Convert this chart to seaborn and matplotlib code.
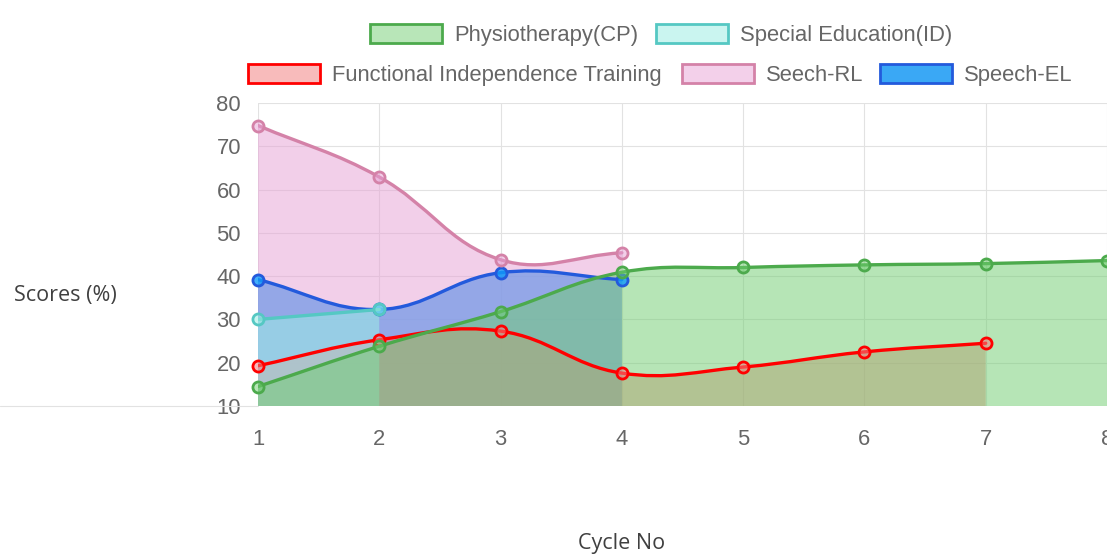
import numpy as np
import matplotlib
matplotlib.use("Agg")
import matplotlib.pyplot as plt
import seaborn as sns
from matplotlib.path import Path
from matplotlib.patches import PathPatch, Patch
from matplotlib.lines import Line2D

# ---------------- data ----------------
cycles = [1, 2, 3, 4, 5, 6, 7, 8]
physio = [14.5, 23.8, 31.8, 40.9, 42.0, 42.6, 42.9, 43.6]
special_ed = [30.0, 32.3]
fit = [19.3, 25.3, 27.3, 17.6, 19.0, 22.5, 24.5]
seech_rl = [74.8, 62.9, 43.8, 45.4]
speech_el = [39.2, 32.3, 40.8, 39.2]

labels = ["Physiotherapy(CP)", "Special Education(ID)",
          "Functional Independence Training", "Seech-RL", "Speech-EL"]
y_ticks = [10, 20, 30, 40, 50, 60, 70, 80]

# ---------------- styles ----------------
def rgb(r, g, b, a=1.0):
    return (r / 255, g / 255, b / 255, a)

series = [
    # label, values, fill rgba, line colour, legend face
    (labels[0], physio, rgb(111, 205, 111, 0.5), rgb(76, 170, 76), rgb(184, 230, 184)),
    (labels[1], special_ed, rgb(155, 237, 228, 0.55), rgb(85, 200, 195), rgb(202, 245, 240)),
    (labels[2], fit, rgb(242, 128, 128, 0.55), rgb(255, 0, 0), rgb(248, 187, 187)),
    (labels[3], seech_rl, rgb(231, 161, 213, 0.5), rgb(212, 130, 168), rgb(243, 208, 234)),
    (labels[4], speech_el, rgb(17, 155, 250, 0.8), rgb(35, 90, 220), rgb(58, 168, 245)),
]

W, H = 1107, 555
sns.set_theme(style="white")
plt.rcParams["font.family"] = ["Liberation Sans", "DejaVu Sans"]

fig = plt.figure(figsize=(W / 100, H / 100), dpi=100)
ax = fig.add_axes([258 / W, (H - 406) / H, 849 / W, 303 / H])
ax.set_xlim(1, 8)
ax.set_ylim(10, 80)

SX, SY = 849 / 7, 303 / 70  # px per unit


def bezier_path(xs, ys, t=0.4, closed_to=None):
    xs = np.asarray(xs, float)
    ys = np.asarray(ys, float)
    px, py = xs * SX, ys * SY
    n = len(xs)
    pcp, ncp = [], []
    for i in range(n):
        a = i - 1 if i > 0 else i
        b = i + 1 if i < n - 1 else i
        d01 = np.hypot(px[i] - px[a], py[i] - py[a])
        d12 = np.hypot(px[b] - px[i], py[b] - py[i])
        tot = d01 + d12
        s01 = d01 / tot if tot else 0
        s12 = d12 / tot if tot else 0
        fa, fb = t * s01, t * s12
        pcp.append((px[i] - fa * (px[b] - px[a]), py[i] - fa * (py[b] - py[a])))
        ncp.append((px[i] + fb * (px[b] - px[a]), py[i] + fb * (py[b] - py[a])))
    verts = [(px[0], py[0])]
    codes = [Path.MOVETO]
    for i in range(1, n):
        verts += [ncp[i - 1], pcp[i], (px[i], py[i])]
        codes += [Path.CURVE4] * 3
    verts = [(vx / SX, vy / SY) for vx, vy in verts]
    if closed_to is not None:
        verts += [(xs[-1], closed_to), (xs[0], closed_to), (xs[0], ys[0])]
        codes += [Path.LINETO, Path.LINETO, Path.CLOSEPOLY]
    return Path(verts, codes)


# fills: last dataset drawn first, first dataset on top
for k, (lab, vals, fill, line, leg) in enumerate(reversed(series)):
    xs = cycles[:len(vals)]
    ax.add_patch(PathPatch(bezier_path(xs, vals, closed_to=10), facecolor=fill,
                           edgecolor="none", zorder=1 + k * 0.1))

# lines and points
for k, (lab, vals, fill, line, leg) in enumerate(reversed(series)):
    xs = cycles[:len(vals)]
    ax.add_patch(PathPatch(bezier_path(xs, vals), facecolor="none", edgecolor=line,
                           lw=2.4, zorder=3 + k * 0.2, capstyle="round", joinstyle="round"))
    sns.scatterplot(x=xs, y=vals, ax=ax, s=8 ** 2, color=line, edgecolor=line,
                    linewidth=2.0, zorder=3.1 + k * 0.2, clip_on=False, legend=False)
    ax.collections[-1].set_facecolor(fill)

# grid / ticks
grid_c = rgb(226, 226, 226)
ax.set_axisbelow(True)
ax.grid(True, color=grid_c, lw=0.8)
for s in ax.spines.values():
    s.set_visible(False)
ax.set_xticks(cycles)
ax.set_yticks(y_ticks)
ax.set_xticklabels([str(c) for c in cycles])
ax.set_yticklabels([str(v) for v in y_ticks])
ax.tick_params(axis="both", length=5.8, width=0.8, color=grid_c, labelcolor="#666666",
               labelsize=15.8)
ax.tick_params(axis="y", pad=6.5)
ax.tick_params(axis="x", pad=10.5)
ax.set_xlabel("")
ax.set_ylabel("")

# long baseline to the left edge
fig.add_artist(Line2D([0, 258 / W], [(H - 406) / H] * 2, color=grid_c, lw=0.8,
                      transform=fig.transFigure))

# axis titles
fig.text(14 / W, 1 - 295 / H, "Scores (%)", ha="left", va="center",
         fontfamily="Open Sans", fontsize=15.5, color="#404040")
fig.text(622 / W, 1 - 543 / H, "Cycle No", ha="center", va="center",
         fontfamily="Open Sans", fontsize=15.5, color="#404040")

# legend items
fs = 15.8
fs_px = fs * 100 / 72
positions = [(370, 35), (656, 35), (248, 75), (682, 75), (880, 75)]
for (lab, vals, fill, line, leg), (bx, by) in zip(series, positions):
    h = Patch(facecolor=leg, edgecolor=line, lw=2.0)
    lg = fig.legend(handles=[h], labels=[lab], loc="center left",
                    bbox_to_anchor=(bx / W, 1 - by / H), frameon=False,
                    borderpad=0, borderaxespad=0, fontsize=fs,
                    handlelength=72 / fs_px, handleheight=21 / fs_px,
                    handletextpad=12 / fs_px, labelcolor="#666666")

fig.savefig("out.png", dpi=100)
